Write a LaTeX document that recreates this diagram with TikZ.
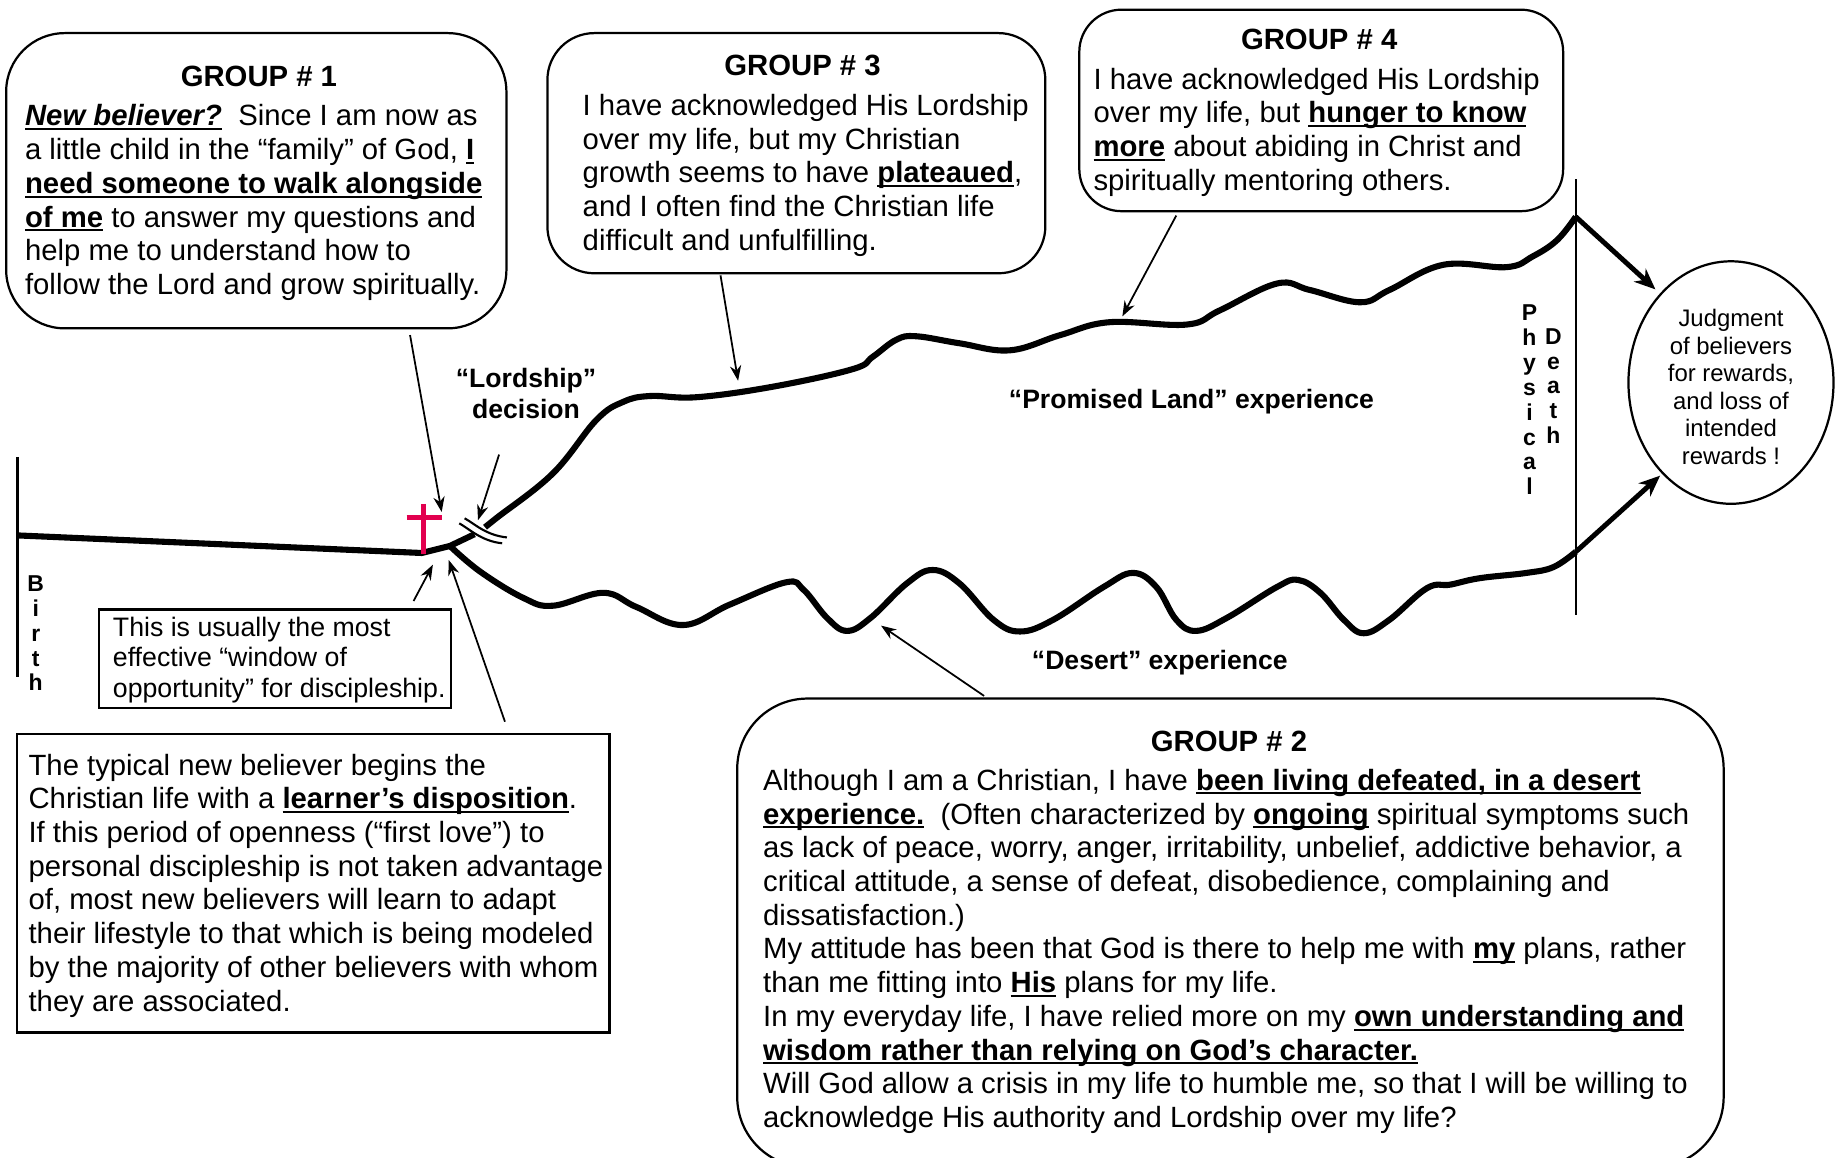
\documentclass[tikz,border=0pt]{standalone}
\usepackage{fontspec}
\setmainfont{Liberation Sans}
\usetikzlibrary{arrows.meta,shapes.geometric}
\newcommand\myul[1]{\leavevmode\setbox0=\hbox{#1}\rlap{\rule[-1.8pt]{\wd0}{.9pt}}\box0 }
\newcommand\ub[1]{\myul{\textbf{#1}}}
\newcommand\fbody{\fontsize{12.5}{14.4}\selectfont}
\definecolor{crosscol}{HTML}{E2004F}
\tikzset{
  x=.5pt,y=-.5pt,
  gbox/.style={draw,line width=.95pt,anchor=north west,inner sep=0pt},
  btext/.style={anchor=north west,inner sep=0pt,align=left,font=\fbody},
  ghead/.style={inner sep=0pt,font=\fbody\bfseries},
  lbl/.style={inner sep=0pt,align=center,font=\fontsize{11.35}{13.5}\selectfont\bfseries},
  vtxt/.style={inner sep=0pt,align=center,anchor=north,font=\fontsize{9.8}{10.6}\selectfont\bfseries},
  thinarrow/.style={line width=.75pt,-{Stealth[length=6.5pt,width=4.8pt]}},
  thickarrow/.style={line width=2.1pt,-{Stealth[length=9pt,width=7.5pt]}},
  lifepath/.style={line width=2.6pt,line join=round},
  vline/.style={line width=.95pt},
}
\begin{document}
\begin{tikzpicture}
\useasboundingbox (0,0) rectangle (1568,987.6);
\fill[white] (0,0) rectangle (1568,987.6);

% boxes
\node[gbox,rounded corners=25pt,minimum width=213.5pt,minimum height=126pt] (g1) at (4.3,27.3) {};
\node[gbox,rounded corners=20pt,minimum width=212.5pt,minimum height=102.5pt] (g3) at (466.3,27.3) {};
\node[gbox,rounded corners=18pt,minimum width=206.5pt,minimum height=86pt] (g4) at (920.3,7.3) {};
\node[gbox,rounded corners=30pt,minimum width=421pt,minimum height=200pt] (g2) at (628.3,595.3) {};
\node[gbox,minimum width=253pt,minimum height=127.5pt] (learn) at (13.3,625.3) {};
\node[gbox,minimum width=150.5pt,minimum height=42pt] (window) at (83.3,519.3) {};

% headings
\node[ghead] (g1h) at (221,65) {GROUP \# 1};
\node[ghead] (g3h) at (685,56) {GROUP \# 3};
\node[ghead] (g4h) at (1126,33.6) {GROUP \# 4};
\node[ghead] (g2h) at (1049,633) {GROUP \# 2};

% body texts
\node[btext] (g1t) at (21,89) {\myul{\textbf{\textit{New believer?}}}\ \ Since I am now as\\
a little child in the “family” of God, \ub{I}\\
\ub{need someone to walk alongside}\\
\ub{of me} to answer my questions and\\
help me to understand how to\\
follow the Lord and grow spiritually.};

\node[btext] (g3t) at (497,80) {I have acknowledged His Lordship\\
over my life, but my Christian\\
growth seems to have \ub{plateaued},\\
and I often find the Christian life\\
difficult and unfulfilling.};

\node[btext] (g4t) at (933,57.5) {I have acknowledged His Lordship\\
over my life, but \ub{hunger to know}\\
\ub{more} about abiding in Christ and\\
spiritually mentoring others.};

\node[btext] (g2t) at (651,656) {Although I am a Christian, I have \ub{been living defeated, in a desert}\\
\ub{experience.}\ \ (Often characterized by \ub{ongoing} spiritual symptoms such\\
as lack of peace, worry, anger, irritability, unbelief, addictive behavior, a\\
critical attitude, a sense of defeat, disobedience, complaining and\\
dissatisfaction.)\\
My attitude has been that God is there to help me with \ub{my} plans, rather\\
than me fitting into \ub{His} plans for my life.\\
In my everyday life, I have relied more on my \ub{own understanding and}\\
\ub{wisdom rather than relying on God’s character.}\\
Will God allow a crisis in my life to humble me, so that I will be willing to\\
acknowledge His authority and Lordship over my life?};

\node[btext] (learnt) at (24,643) {The typical new believer begins the\\
Christian life with a \ub{learner’s disposition}.\\
If this period of openness (“first love”) to\\
personal discipleship is not taken advantage\\
of, most new believers will learn to adapt\\
their lifestyle to that which is being modeled\\
by the majority of other believers with whom\\
they are associated.};

\node[btext,font=\fontsize{11.4}{13}\selectfont] (windowt) at (96,526) {This is usually the most\\
effective “window of\\
opportunity” for discipleship.};

% labels
\node[lbl] (lord) at (449,336) {“Lordship”\\decision};
\node[lbl] (promised) at (1017,343) {“Promised Land” experience};
\node[lbl] (desert) at (990,566) {“Desert” experience};
\node[vtxt] (birth) at (30.5,491) {B\\i\\r\\t\\h};
\node[vtxt] (phys) at (1305.5,260) {P\\h\\y\\s\\i\\c\\a\\l};
\node[vtxt] (death) at (1326,280) {D\\e\\a\\t\\h};

% judgment
\node[draw,ellipse,line width=.95pt,inner sep=0pt,minimum width=87.5pt,minimum height=103.5pt,align=center,font=\fontsize{10.2}{11.75}\selectfont] (judge) at (1477.5,326.5) {\rule{0pt}{11.2pt}Judgment\\of believers\\for rewards,\\and loss of\\intended\\rewards !};

% vertical lines
\coordinate (bt) at (15,390);
\coordinate (bb) at (15,578);
\coordinate (dt) at (1345,153);
\coordinate (db) at (1345,525);
\draw[vline] (bt) -- (bb);
\draw[vline] (dt) -- (db);

% life path
\coordinate (start) at (15,457);
\coordinate (conv) at (360,472);
\coordinate (fork) at (384,466);
\coordinate (brk) at (405,456);
\coordinate (brk2) at (414,450);
\coordinate (top) at (1345,185);
\coordinate (low) at (1345,471);
\draw[lifepath] (start) -- (conv) -- (fork) -- (brk);
\draw[lifepath] plot[smooth,tension=.65] coordinates {(brk2) (424,442) (472,404) (509,358.5) (532,343) (555,338) (595,339) (660,330) (728,315) (745,304.5) (765,290) (782,287) (819,293) (862,299) (905,286) (947,275) (1013,277) (1041,265) (1090,242) (1118,247.5) (1161,258) (1186,247.5) (1232,226) (1286,228) (1308,219) (1329,205) (top)};
\draw[lifepath] plot[smooth,tension=.65] coordinates {(fork) (410,488) (447,510.5) (472,517) (515,506) (543,518) (583,533.5) (623,516) (671,497) (686,503.5) (706,527.5) (723,538.5) (743,527.5) (774,498) (796,486.5) (819,498) (848,529) (870.6,539) (899,529) (942,501) (967,489) (987,501) (1004,529) (1021,538.5) (1047,527.5) (1090,501) (1108,495) (1127,506) (1147,529) (1164,540.5) (1186,529) (1218,502) (1238,499) (1263,493.5) (1303,489) (1326,484) (low)};
\coordinate (toptip) at (1413,247);
\coordinate (lowtip) at (1417,406);
\draw[thickarrow] (top) -- (toptip);
\draw[thickarrow] (low) -- (lowtip);

% break marks
\coordinate (m1a) at (396.6,442.4);
\coordinate (m1b) at (432.7,458.7);
\coordinate (m2a) at (392,446.7);
\coordinate (m2b) at (428.6,463.7);
\draw[line width=.9pt] (m1a) .. controls (405,447) and (415,457) .. (m1b);
\draw[line width=.9pt] (m2a) .. controls (400,451) and (411,462) .. (m2b);

% cross
\coordinate (cv1) at (361.5,430);
\coordinate (cv2) at (361.5,473);
\coordinate (ch1) at (347,442);
\coordinate (ch2) at (377,442);
\draw[crosscol,line width=2.1pt] (cv1) -- (cv2);
\draw[crosscol,line width=2.1pt] (ch1) -- (ch2);

% pointer arrows
\coordinate (a1) at (350,286); \coordinate (a1e) at (377,437);
\coordinate (a2) at (426,388); \coordinate (a2e) at (408,444);
\coordinate (a3) at (353,513); \coordinate (a3e) at (369.5,482);
\coordinate (a4) at (431,616); \coordinate (a4e) at (383,478);
\coordinate (a5) at (615,235); \coordinate (a5e) at (630,325);
\coordinate (a6) at (1004,184); \coordinate (a6e) at (958,270);
\coordinate (a7) at (840,594); \coordinate (a7e) at (752,534);
\draw[thinarrow] (a1) -- (a1e);
\draw[thinarrow] (a2) -- (a2e);
\draw[thinarrow] (a3) -- (a3e);
\draw[thinarrow] (a4) -- (a4e);
\draw[thinarrow] (a5) -- (a5e);
\draw[thinarrow] (a6) -- (a6e);
\draw[thinarrow] (a7) -- (a7e);
\end{tikzpicture}
\end{document}
